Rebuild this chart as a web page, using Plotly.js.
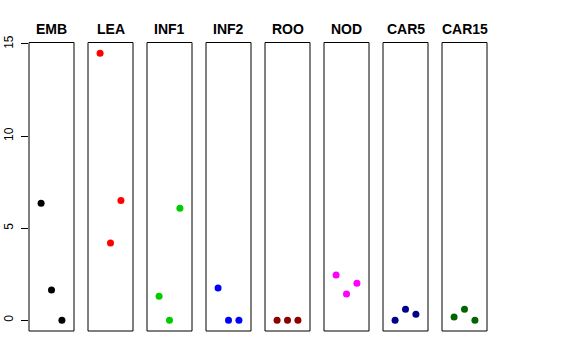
<!DOCTYPE html>
<html><head><meta charset="utf-8">
<script src="https://cdn.plot.ly/plotly-3.0.1.min.js"></script>
<style>html,body{margin:0;padding:0;background:#fff}#chart{width:576px;height:360px}</style>
</head><body><div id="chart"></div>
<script>
const categories = ["EMB","LEA","INF1","INF2","ROO","NOD","CAR5","CAR15"];
const positions = [1,2,3];
const EMB  = [6.35, 1.65, 0];
const LEA  = [14.5, 4.2, 6.5];
const INF1 = [1.3, 0, 6.08];
const INF2 = [1.75, 0, 0];
const ROO  = [0, 0, 0];
const NOD  = [2.46, 1.43, 2.01];
const CAR5 = [0, 0.6, 0.33];
const CAR15 = [0.18, 0.6, 0];
const seriesValues = [EMB, LEA, INF1, INF2, ROO, NOD, CAR5, CAR15];
const colors = ["#000000","#FF0000","#00CD00","#0000FF","#8B0000","#FF00FF","#00008B","#006400"];
const yTicks = [0,5,10,15];

const W = 576, H = 360;
const panelLeft = 29, panelW = 45, panelStep = 59;
const topPx = 42.5, botPx = 331;

const data = [];
const layout = {
  width: W, height: H,
  margin: {l:0, r:0, t:0, b:0},
  paper_bgcolor: "#fff", plot_bgcolor: "#fff",
  showlegend: false,
  font: {family: "Liberation Sans, Arial, sans-serif", color: "#000"},
  shapes: [], annotations: [],
  yaxis: {
    domain: [1 - botPx/H, 1 - topPx/H],
    range: [-0.58, 15.08],
    tickvals: yTicks, ticktext: yTicks.map(String),
    ticks: "outside", ticklen: 7, tickcolor: "#000", tickwidth: 1,
    tickangle: -90, tickfont: {size: 12, color: "#000"},
    ticklabelstandoff: 3,
    showgrid: false, zeroline: false, showline: false,
    anchor: "x", fixedrange: true
  }
};

categories.forEach((cat, i) => {
  const ax = i === 0 ? "x" : "x" + (i+1);
  const axKey = i === 0 ? "xaxis" : "xaxis" + (i+1);
  const x0 = (panelLeft + panelStep*i) / W;
  const x1 = (panelLeft + panelStep*i + panelW) / W;
  layout[axKey] = {
    domain: [x0, x1], range: [-0.16, 4.16],
    visible: false, showgrid: false, zeroline: false, anchor: "y", fixedrange: true
  };
  data.push({
    type: "scatter", mode: "markers",
    x: positions, y: seriesValues[i],
    xaxis: ax, yaxis: "y",
    marker: {color: colors[i], size: 7},
    hoverinfo: "skip"
  });
  layout.shapes.push({
    type: "rect", xref: ax + " domain", yref: "y domain",
    x0: 0, x1: 1, y0: 0, y1: 1,
    line: {color: "#000", width: 1}, fillcolor: "rgba(0,0,0,0)"
  });
  layout.annotations.push({
    text: "<b>" + cat + "</b>", xref: "paper", yref: "paper",
    x: (x0 + x1)/2, y: 1 - 29/H, xanchor: "center", yanchor: "middle",
    showarrow: false, font: {size: 14, color: "#000", family: "Liberation Sans, Arial, sans-serif"}
  });
});

Plotly.newPlot("chart", data, layout, {staticPlot: true, displayModeBar: false});
</script></body></html>
